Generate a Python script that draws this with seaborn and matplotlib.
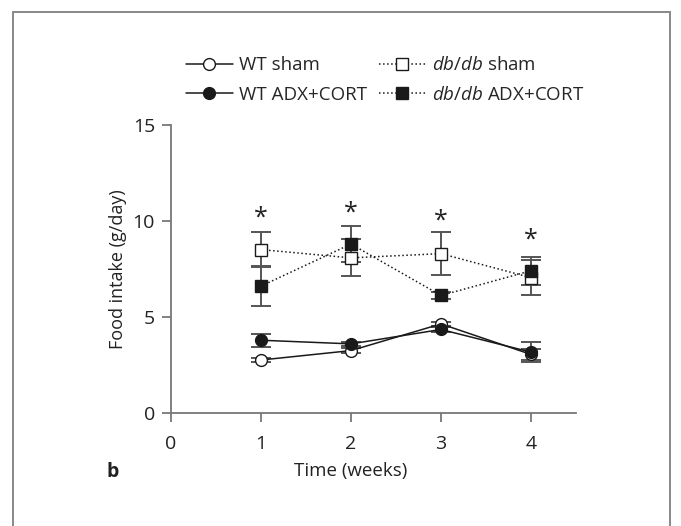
import matplotlib
matplotlib.use("Agg")
import matplotlib.pyplot as plt
import matplotlib.patches as mpatches
import seaborn as sns

weeks = [1, 2, 3, 4]
wt_sham = [2.76, 3.25, 4.64, 3.05]
wt_sham_sem = [0.12, 0.12, 0.12, 0.3]
wt_adx = [3.79, 3.60, 4.35, 3.17]
wt_adx_sem = [0.33, 0.12, 0.12, 0.52]
db_sham = [8.51, 8.08, 8.30, 7.05]
db_sham_sem = [0.90, 0.97, 1.12, 0.92]
db_adx = [6.61, 8.80, 6.12, 7.41]
db_adx_sem = [1.03, 0.95, 0.2, 0.72]
star_y = [10.15, 10.4, 9.98, 9.0]

sns.set_style("ticks")
plt.rcParams["font.family"] = ["Open Sans", "DejaVu Sans"]
plt.rcParams["mathtext.fontset"] = "custom"
plt.rcParams["mathtext.it"] = "Open Sans:italic"
plt.rcParams["mathtext.rm"] = "Open Sans"

fig = plt.figure(figsize=(6.81, 5.26), dpi=100)
ax = fig.add_axes([171 / 681, 1 - 413 / 526, 405 / 681, 288 / 526])

series = [
    ("WT sham", wt_sham, wt_sham_sem, "o", "white", "-"),
    ("WT ADX+CORT", wt_adx, wt_adx_sem, "o", "#1a1a1a", "-"),
    (r"$\it{db/db}$ sham", db_sham, db_sham_sem, "s", "white", ":"),
    (r"$\it{db/db}$ ADX+CORT", db_adx, db_adx_sem, "s", "#1a1a1a", ":"),
]

for label, vals, sem, mk, fc, ls in series:
    ax.errorbar(weeks, vals, yerr=sem, fmt="none", ecolor="#555555",
                elinewidth=1.4, capsize=7, capthick=1.4, zorder=2)
for label, vals, sem, mk, fc, ls in series:
    sns.lineplot(x=weeks, y=vals, ax=ax, color="#1a1a1a", linestyle=ls,
                 linewidth=1.1, marker=mk, markersize=8.5,
                 markerfacecolor=fc, markeredgecolor="#1a1a1a",
                 markeredgewidth=1.0, label=label, zorder=3)

for w, sy in zip(weeks, star_y):
    ax.text(w, sy, "*", ha="center", va="center", fontsize=18, color="#222222")

ax.set_xlim(0, 4.5)
ax.set_ylim(0, 15)
ax.set_xticks([0, 1, 2, 3, 4])
ax.set_yticks([0, 5, 10, 15])
for s in ["top", "right"]:
    ax.spines[s].set_visible(False)
for s in ["left", "bottom"]:
    ax.spines[s].set_color("#777777")
    ax.spines[s].set_linewidth(1.3)
ax.tick_params(axis="both", length=6.5, width=1.3, color="#777777",
               labelsize=14, labelcolor="#222222")
ax.tick_params(axis="x", pad=9)
ax.tick_params(axis="y", pad=5)

ax.set_ylabel("Food intake (g/day)", fontsize=13, color="#222222", labelpad=4)
ax.set_xlabel("Time (weeks)", fontsize=13.5, color="#222222")
ax.xaxis.set_label_coords(2 / 4.5, -0.17)
fig.text(113 / 681, 1 - 472 / 526, "b", fontsize=14, fontweight="bold",
         ha="center", va="center", color="#222222")

ax.legend(ncol=2, frameon=False, loc="center left",
          bbox_to_anchor=(186 / 681, 1 - 80 / 526), bbox_transform=fig.transFigure,
          fontsize=13.5, handlelength=2.5, handletextpad=0.35,
          columnspacing=0.6, labelspacing=0.6, borderpad=0, borderaxespad=0)

fig.patches.append(mpatches.Rectangle((13 / 681, -0.1), 657 / 681, 1.1 - 12 / 526,
                                      transform=fig.transFigure, fill=False,
                                      edgecolor="#888888", linewidth=1.4))

fig.savefig("out.png", dpi=100)
